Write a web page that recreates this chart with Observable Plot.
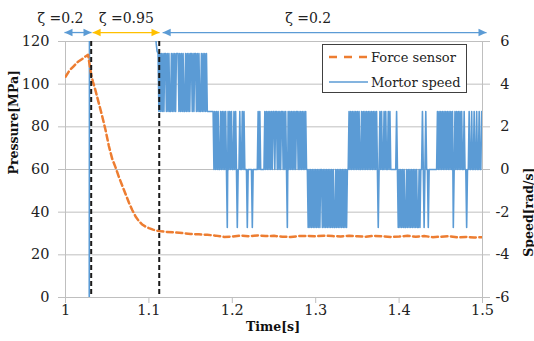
<!DOCTYPE html>
<html>
<head>
<meta charset="utf-8">
<script src="https://cdn.jsdelivr.net/npm/d3@7"></script>
<script src="https://cdn.jsdelivr.net/npm/@observablehq/plot@0.6"></script>
<style>
  html, body { margin: 0; padding: 0; background: #fff; }
  #wrap { position: relative; width: 534px; height: 341px; }
  #legend { position: absolute; left: 322px; top: 44px; width: 145px; height: 49px; box-sizing: border-box;
    border: 1px solid #404040; background: #fff; font: 13px "DejaVu Serif", serif; color: #222; }
  #legend .row { position: absolute; left: 5px; height: 16px; display: flex; align-items: center; }
  #legend svg { display: block; margin-right: 3px; }
</style>
</head>
<body>
<div id="wrap">
  <div id="chart"></div>
  <div id="legend">
    <div class="row" style="top:4px"><svg width="40" height="6"><line x1="1" y1="3" x2="40" y2="3" stroke="#ED7D31" stroke-width="2.5" stroke-dasharray="8,7"/></svg>Force sensor</div>
    <div class="row" style="top:29px"><svg width="40" height="6"><line x1="1" y1="3" x2="40" y2="3" stroke="#5B9BD5" stroke-width="1.5"/></svg>Mortor speed</div>
  </div>
</div>
<script>
// ---------- data ----------
const xTicks = [1, 1.1, 1.2, 1.3, 1.4, 1.5];
const xTickLabels = ["1", "1.1", "1.2", "1.3", "1.4", "1.5"];
const pTicks = [0, 20, 40, 60, 80, 100, 120];
const pTickLabels = ["0", "20", "40", "60", "80", "100", "120"];
const speedTicks = [6, 4, 2, 0, -2, -4, -6];
const speedTickLabels = ["6", "4", "2", "0", "-2", "-4", "-6"];

// Force sensor (pressure, MPa)
const pressureTime = [1.000, 1.005, 1.010, 1.015, 1.020, 1.024, 1.027, 1.031, 1.033, 1.036, 1.040, 1.044, 1.048, 1.052,
  1.056, 1.060, 1.064, 1.068, 1.072, 1.076, 1.080, 1.084, 1.088, 1.092, 1.096, 1.100, 1.105, 1.110, 1.115, 1.120,
  1.130, 1.140, 1.150, 1.160, 1.170, 1.180, 1.190, 1.200, 1.210, 1.220, 1.230, 1.240, 1.250, 1.260, 1.270, 1.280,
  1.290, 1.300, 1.310, 1.320, 1.330, 1.340, 1.350, 1.360, 1.370, 1.380, 1.390, 1.400, 1.410, 1.420, 1.430, 1.440,
  1.450, 1.460, 1.470, 1.480, 1.490, 1.500];
const pressureValue = [103.5, 106.5, 108.5, 110.5, 111.8, 113.0, 113.8, 104, 101, 97, 91, 85, 78.5, 71,
  65, 61, 56.5, 52.5, 48.5, 44.5, 41, 38, 35.8, 34.2, 33.2, 32.5, 31.8, 31.3, 31.0, 30.8,
  30.5, 30.2, 29.8, 29.6, 29.4, 29.0, 28.4, 28.6, 29.0, 28.7, 29.1, 28.8, 28.9, 28.5, 28.4, 28.8,
  28.9, 28.7, 29.0, 28.8, 28.6, 28.9, 28.7, 28.5, 28.9, 28.7, 28.4, 28.6, 28.9, 28.5, 28.8, 28.3,
  28.5, 28.7, 28.2, 28.4, 28.1, 28.3];

// Motor speed (rad/s): leading part as explicit points, then 1 ms samples coded by level
const speedPreTime = [1.000, 1.0284, 1.0288, 1.1065, 1.1078, 1.1088, 1.1098];
const speedPreValue = [-10, -10, 10, 10, 6.4, 5.9, 5.55];
const speedLevels = [-2.72, 0, 2.72, 5.44];   // code 0..3
const speedStart = 1.111, speedStep = 0.001;
const speedCodeSegments = [
  "3232323233" + "2323223232" + "3233323232" + "3223232323" + "3232332323" + "2232323232", // 1.111-1.170
  "2222222",                                                                                // 1.171-1.177
  "1212121121" + "2121210212" + "1211212101" + "121121",                                    // 1.178-1.213
  "2111011111" + "0111111212" + "111112",                                                   // 1.214-1.239
  "1212121212" + "2122121212" + "2121210212" + "1212121221" + "2121212121" + "1",           // 1.240-1.290
  "0101010101" + "0101011010" + "1010101010" + "1001010101" + "01010101",                   // 1.291-1.338
  "1212121212" + "1212112121" + "2121212121" + "2121210121" + "2112121121" + "21",          // 1.339-1.390
  "1111112",                                                                                // 1.391-1.397
  "1010101010" + "0101010101" + "010100101",                                                // 1.398-1.426
  "1210121101" + "111111111",                                                               // 1.427-1.445
  "2121212121" + "2121212120" + "1212121212" + "1121101121" + "1211211211" + "2112"         // 1.446-1.499
];

// zeta regions (arrows above the plot)
const zetaLabels = ["\u03B6 =0.2", "\u03B6 =0.95", "\u03B6 =0.2"];
const zetaLabelX = [0.994, 1.073, 1.291];
const zetaStart = [0.9988, 1.0325, 1.1165];
const zetaEnd = [1.0312, 1.1127, 1.5048];
const zetaColors = ["#5B9BD5", "#FFC000", "#5B9BD5"];
const switchTimes = [1.0308, 1.1124];

// ---------- build ----------
const pMin = 0, pMax = 120, sMin = -6, sMax = 6;
const toLeft = s => (s - sMin) * (pMax - pMin) / (sMax - sMin) + pMin;

const pressure = pressureTime.map((t, i) => ({t, p: pressureValue[i]}));
const speed = speedPreTime.map((t, i) => ({t, s: speedPreValue[i]}))
  .concat(speedCodeSegments.join("").split("").map((c, i) => ({t: speedStart + i * speedStep, s: speedLevels[+c]})));
const zeta = zetaLabels.map((label, i) => ({label, lx: zetaLabelX[i], x1: zetaStart[i], x2: zetaEnd[i], color: zetaColors[i]}));

const xLab = new Map(xTicks.map((d, i) => [d, xTickLabels[i]]));
const pLab = new Map(pTicks.map((d, i) => [d, pTickLabels[i]]));
const rightPos = speedTicks.map(toLeft);
const sLab = new Map(rightPos.map((d, i) => [d, speedTickLabels[i]]));

const arrowY = 124.2, labelY = 130.8;
const headRight = {draw(ctx) { ctx.moveTo(0, 0); ctx.lineTo(-8, -3.7); ctx.lineTo(-8, 3.7); ctx.closePath(); }};
const headLeft = {draw(ctx) { ctx.moveTo(0, 0); ctx.lineTo(8, -3.7); ctx.lineTo(8, 3.7); ctx.closePath(); }};

const gridColor = "#bfbfbf";
const chart = Plot.plot({
  width: 534, height: 341,
  marginLeft: 65, marginRight: 52, marginTop: 41, marginBottom: 44,
  x: {domain: [1, 1.5]},
  y: {domain: [pMin, pMax]},
  color: {type: "identity"},
  style: {fontFamily: "'DejaVu Serif', serif", fontSize: "14.5px", color: "#222", background: "#fff", overflow: "visible"},
  marks: [
    Plot.gridY(pTicks, {stroke: gridColor, strokeOpacity: 1}),
    Plot.ruleX([1, 1.5], {stroke: gridColor}),
    Plot.ruleY([0], {stroke: gridColor}),
    Plot.axisY(pTicks, {anchor: "left", tickSize: 7, tickPadding: 9, stroke: gridColor, fill: "#222", tickFormat: d => pLab.get(d), label: null}),
    Plot.axisY(rightPos, {anchor: "right", tickSize: 7, tickPadding: 20, textAnchor: "end", stroke: gridColor, fill: "#222", tickFormat: d => sLab.get(d), label: null}),
    Plot.axisX(xTicks, {anchor: "bottom", tickSize: 6, tickPadding: 1, stroke: gridColor, fill: "#222", tickFormat: d => xLab.get(d), label: null}),
    Plot.line(speed, {x: "t", y: d => toLeft(d.s), stroke: "#5B9BD5", strokeWidth: 1.6, clip: true}),
    Plot.line(pressure, {x: "t", y: "p", stroke: "#ED7D31", strokeWidth: 2.5, strokeDasharray: "6,3.5", clip: true}),
    Plot.ruleX(switchTimes, {stroke: "#1a1a1a", strokeWidth: 2, strokeDasharray: "5,3"}),
    Plot.link(zeta, {x1: "x1", x2: "x2", y1: arrowY, y2: arrowY, stroke: "color", strokeWidth: 1.3, clip: false}),
    Plot.dot(zeta, {x: "x2", y: arrowY, symbol: headRight, fill: "color", stroke: "none"}),
    Plot.dot(zeta, {x: "x1", y: arrowY, symbol: headLeft, fill: "color", stroke: "none"}),
    Plot.text(zeta, {x: "lx", y: labelY, text: "label", fill: "#222", fontSize: 14}),
    Plot.text(["Pressure[MPa]"], {frameAnchor: "left", dx: -52, dy: 5, rotate: -90, fontWeight: "bold", fontSize: 12.5, fill: "#111"}),
    Plot.text(["Speed[rad/s]"], {frameAnchor: "right", dx: 46, dy: -2, rotate: -90, fontWeight: "bold", fontSize: 12.5, fill: "#111"}),
    Plot.text(["Time[s]"], {frameAnchor: "bottom", dx: -1, dy: 33, fontWeight: "bold", fontSize: 12.5, fill: "#111"})
  ]
});
document.getElementById("chart").appendChild(chart);
</script>
</body>
</html>
